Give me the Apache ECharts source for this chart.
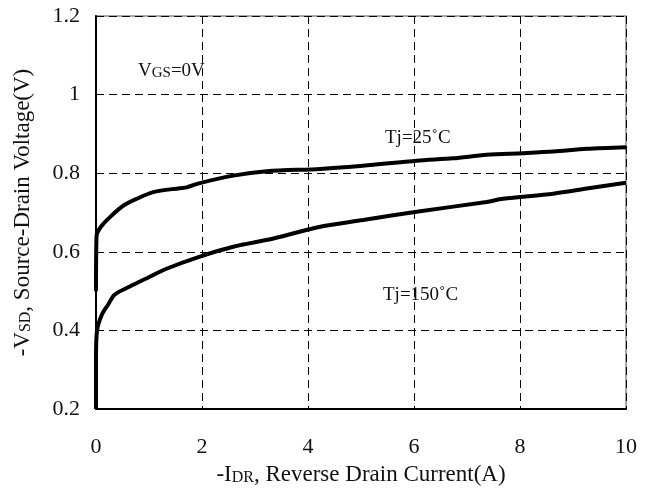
<!DOCTYPE html>
<html>
<head>
<meta charset="utf-8">
<script src="https://cdn.jsdelivr.net/npm/echarts@6/dist/echarts.min.js"></script>
<style>html,body{margin:0;padding:0;background:#fff}#c{width:655px;height:491px}</style>
</head>
<body>
<div id="c"></div>
<script>
// Tj = 25°C curve: [current (A), voltage (V)]
const curve25 = [
  [0, 0.50], [0.01, 0.64], [0.10, 0.665], [0.30, 0.693], [0.52, 0.718], [0.77, 0.735],
  [1.08, 0.752], [1.58, 0.762], [1.71, 0.764], [1.96, 0.775], [2.59, 0.794],
  [3.22, 0.805], [4.23, 0.811], [5.04, 0.819], [6.05, 0.832], [6.74, 0.838],
  [7.37, 0.847], [8.06, 0.851], [8.63, 0.855], [9.26, 0.862], [10, 0.866]
];
// Tj = 150°C curve
const curve150 = [
  [0, 0.20], [0, 0.33], [0.02, 0.40], [0.11, 0.44], [0.23, 0.466], [0.35, 0.491],
  [0.64, 0.512], [0.96, 0.533], [1.33, 0.557], [1.96, 0.588], [2.59, 0.613],
  [3.35, 0.634], [4.23, 0.664], [5.04, 0.681], [6.05, 0.702], [7.37, 0.727],
  [7.68, 0.735], [8.63, 0.748], [9.26, 0.761], [10, 0.776]
];
const xTicks = [0, 2, 4, 6, 8, 10];
const yTicks = [0.2, 0.4, 0.6, 0.8, 1.0, 1.2];

const FONT = '"Liberation Serif", "DejaVu Serif", serif';
const chart = echarts.init(document.getElementById('c'));
const lineCommon = {type: 'line', showSymbol: false, smooth: 0.3, lineStyle: {color: '#000', width: 4}, z: 5};
const titleRich = {
  t: {fontFamily: FONT, fontSize: 23, color: '#111'},
  s: {fontFamily: FONT, fontSize: 16, color: '#111', padding: [6, 0, 0, 0]}
};
chart.setOption({
  animation: false,
  grid: {left: 96, top: 16, right: 29, bottom: 79, show: true, borderColor: '#888', borderWidth: 1.5},
  xAxis: {
    type: 'value', min: 0, max: 10, interval: 2,
    name: '{t|-I}{s|DR}{t|, Reverse Drain Current(A)}',
    nameLocation: 'middle', nameGap: 53,
    nameTextStyle: {rich: titleRich},
    axisLine: {show: true, onZero: false, lineStyle: {color: '#000', width: 2}},
    axisTick: {show: false},
    axisLabel: {fontFamily: FONT, fontSize: 22, color: '#111', margin: 27, formatter: v => xTicks.includes(v) ? String(v) : ''},
    splitLine: {show: true, lineStyle: {color: '#000', type: [8, 5], width: 1}}
  },
  yAxis: {
    type: 'value', min: 0.2, max: 1.2, interval: 0.2,
    name: '{t|-V}{s|SD}{t|, Source-Drain Voltage(V)}',
    nameLocation: 'middle', nameGap: 62, nameRotate: 90,
    nameTextStyle: {rich: titleRich},
    axisLine: {show: true, onZero: false, lineStyle: {color: '#000', width: 2}},
    axisTick: {show: false},
    axisLabel: {fontFamily: FONT, fontSize: 22, color: '#111', margin: 16,
      formatter: v => { const r = Math.round(v * 10) / 10; return yTicks.some(t => Math.abs(t - r) < 1e-6) ? (r === 1 ? '1' : r.toFixed(1)) : ''; }},
    splitLine: {show: true, lineStyle: {color: '#000', type: [8, 5], width: 1}}
  },
  graphic: [
    {type: 'text', left: 138, top: 62, style: {rich: {t: {fontFamily: FONT, fontSize: 19, fill: '#111'}, s: {fontFamily: FONT, fontSize: 15, fill: '#111', padding: [3, 0, 0, 0]}}, text: '{t|V}{s|GS}{t|=0V}'}},
    {type: 'text', left: 385, top: 129, style: {text: 'Tj=25˚C', fontFamily: FONT, fontSize: 19, fill: '#111'}},
    {type: 'text', left: 383, top: 286, style: {text: 'Tj=150˚C', fontFamily: FONT, fontSize: 19, fill: '#111'}}
  ],
  series: [
    Object.assign({}, lineCommon, {name: 'Tj=25°C', data: curve25}),
    Object.assign({}, lineCommon, {name: 'Tj=150°C', data: curve150})
  ]
});
</script>
</body>
</html>
